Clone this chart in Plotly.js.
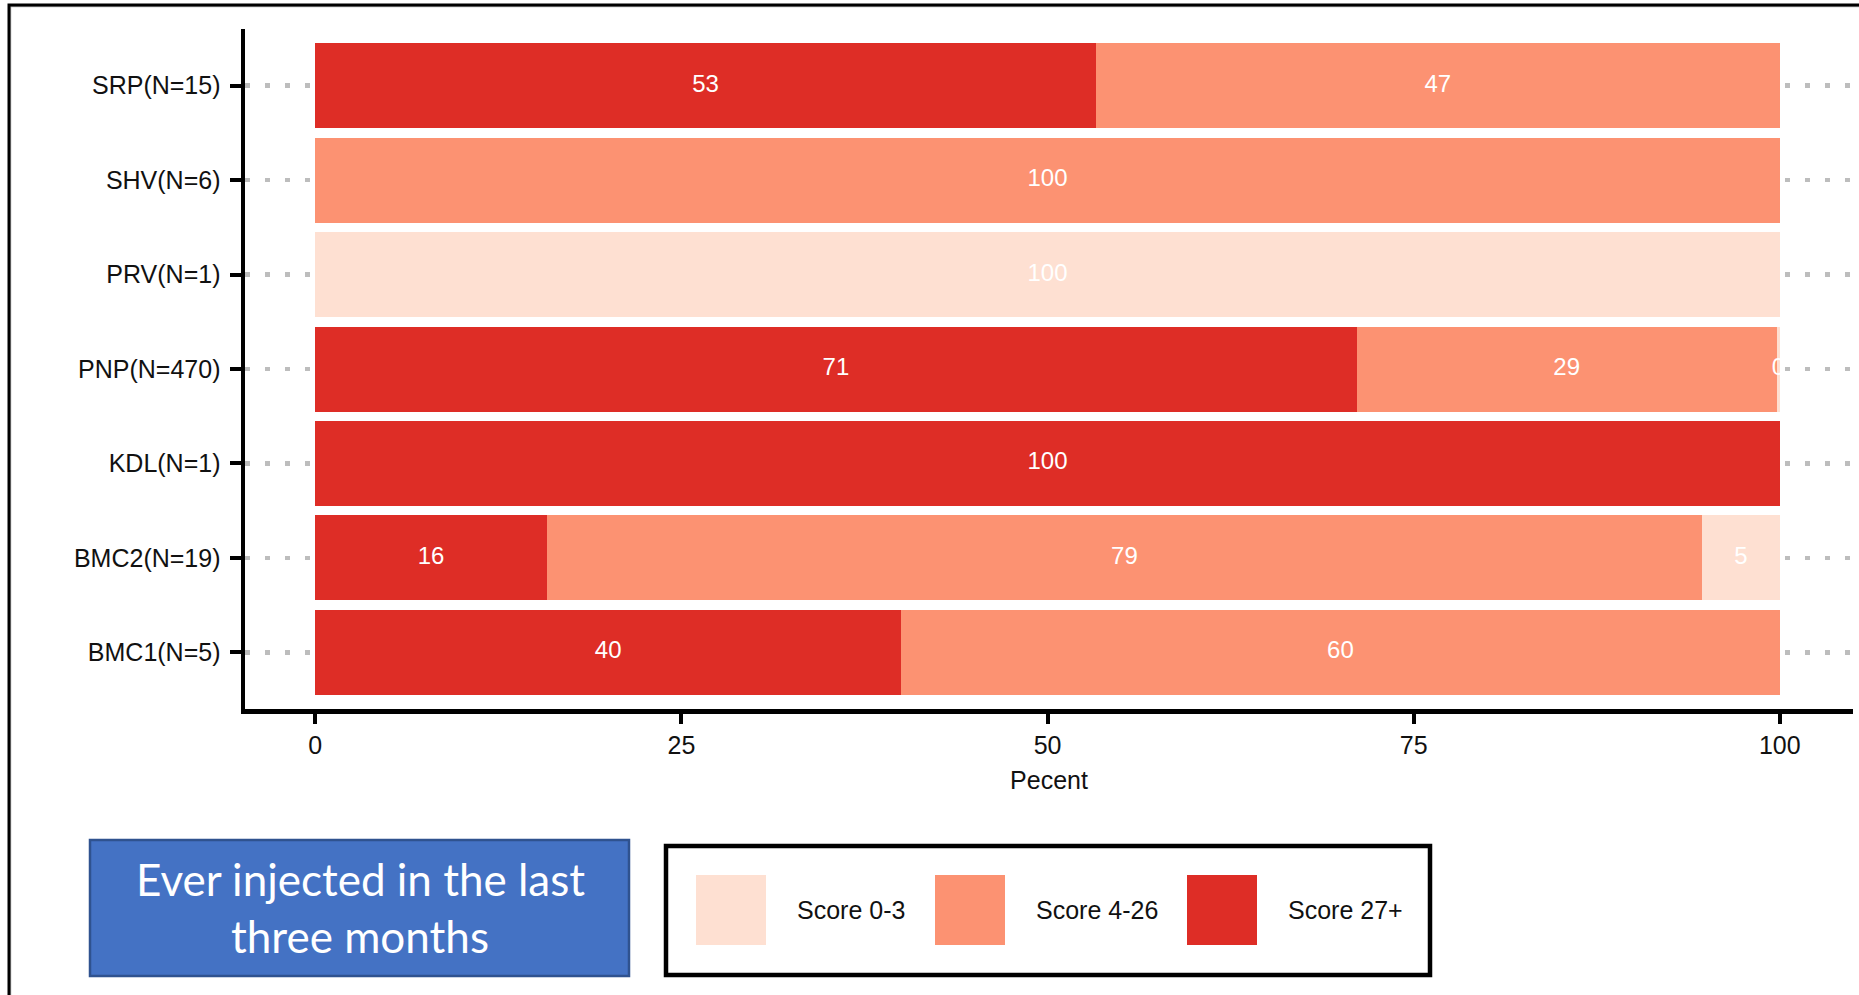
<!DOCTYPE html>
<html>
<head>
<meta charset="utf-8">
<script src="https://cdn.plot.ly/plotly-3.0.1.min.js"></script>
<style>
  html, body { margin: 0; padding: 0; background: #ffffff; }
  #chart { width: 1859px; height: 995px; }
</style>
</head>
<body>
<div id="chart"></div>
<script>
// ---- data (bottom to top) ----
const categories = ["BMC1(N=5)", "BMC2(N=19)", "KDL(N=1)", "PNP(N=470)", "PRV(N=1)", "SHV(N=6)", "SRP(N=15)"];
const score27plus = [40, 15.8, 100, 71.1, 0, 0, 53.3];
const score4to26  = [60, 78.9, 0, 28.7, 0, 100, 46.7];
const score0to3   = [0, 5.3, 0, 0.2, 100, 0, 0];
const seriesNames = ["Score 27+", "Score 4-26", "Score 0-3"];
const seriesColors = ["#DE2D26", "#FC9272", "#FEE0D2"];
const xTicks = [0, 25, 50, 75, 100];
const xTitle = "Pecent";
const boxTitleLines = ["Ever injected in the last", "three months"];
const legendOrder = ["Score 0-3", "Score 4-26", "Score 27+"];

const series = [score27plus, score4to26, score0to3];
const FONT = '"Liberation Sans", Arial, sans-serif';

// ---- geometry of the figure (pixels) ----
const W = 1859, H = 995;
const M = {l: 245, r: 6, t: 29, b: 286};
const PW = W - M.l - M.r, PH = H - M.t - M.b;
const px = x => (x - M.l) / PW;
const py = y => (H - M.b - y) / PH;

// ---- bar traces ----
const traces = series.map((vals, i) => ({
  type: 'bar',
  orientation: 'h',
  name: seriesNames[i],
  y: categories,
  x: vals,
  width: 0.9,
  marker: {color: seriesColors[i], line: {width: 0}},
  showlegend: false,
  hoverinfo: 'x+y+name'
}));

// ---- value labels at the middle of each segment ----
const lx = [], ly = [], lt = [];
categories.forEach((c, j) => {
  let cum = 0;
  series.forEach(vals => {
    const v = vals[j];
    if (v > 0) {
      lx.push(cum + v / 2);
      ly.push(c);
      lt.push(String(Math.round(v)));
    }
    cum += v;
  });
});
traces.push({
  type: 'scatter',
  mode: 'text',
  x: lx, y: ly, text: lt,
  textposition: 'middle center',
  textfont: {family: FONT, size: 24, color: '#ffffff'},
  cliponaxis: false,
  showlegend: false,
  hoverinfo: 'skip'
});

// ---- shapes & annotations (frame, legend box, title box) ----
const shapes = [];
const annotations = [];

// outer frame (open on right / bottom: runs off the picture)
shapes.push({type: 'rect', xref: 'paper', yref: 'paper',
  x0: px(10.5), x1: px(1950), y0: py(6.5), y1: py(1100),
  line: {color: '#b0b0b0', width: 1.5}, layer: 'above'});
shapes.push({type: 'rect', xref: 'paper', yref: 'paper',
  x0: px(9), x1: px(1950), y0: py(5), y1: py(1100),
  line: {color: '#000000', width: 3}, layer: 'above'});

// legend box
shapes.push({type: 'rect', xref: 'paper', yref: 'paper',
  x0: px(666), x1: px(1430), y0: py(846), y1: py(975),
  line: {color: '#000000', width: 4.5}, fillcolor: 'rgba(0,0,0,0)', layer: 'above'});
const swatchX = [696, 935, 1187];
legendOrder.forEach((name, k) => {
  const col = seriesColors[seriesNames.indexOf(name)];
  shapes.push({type: 'rect', xref: 'paper', yref: 'paper',
    x0: px(swatchX[k]), x1: px(swatchX[k] + 70), y0: py(875), y1: py(945),
    line: {width: 0}, fillcolor: col, layer: 'above'});
  annotations.push({xref: 'paper', yref: 'paper',
    x: px(swatchX[k] + 99), y: py(910), xanchor: 'left', yanchor: 'middle',
    text: name, showarrow: false,
    font: {family: FONT, size: 25, color: '#111111'}});
});

// blue title box
shapes.push({type: 'rect', xref: 'paper', yref: 'paper',
  x0: px(90), x1: px(629), y0: py(840), y1: py(976),
  line: {color: '#2F528F', width: 2.5}, fillcolor: '#4472C4', layer: 'above'});
const lineY = [879, 936];
boxTitleLines.forEach((t, k) => {
  annotations.push({xref: 'paper', yref: 'paper',
    x: px(360), y: py(lineY[k]), xanchor: 'center', yanchor: 'middle',
    text: t, showarrow: false,
    font: {family: 'Lato, "Open Sans", sans-serif', size: 44, color: '#ffffff'}});
});

const layout = {
  width: W, height: H,
  margin: M,
  paper_bgcolor: '#ffffff',
  plot_bgcolor: '#ffffff',
  barmode: 'stack',
  bargap: 0.1,
  showlegend: false,
  font: {family: FONT, color: '#111111'},
  xaxis: {
    range: [-4.8, 105],
    tickvals: xTicks,
    ticktext: xTicks.map(String),
    showgrid: false,
    zeroline: false,
    showline: true, linecolor: '#000000', linewidth: 4.5,
    ticks: 'outside', ticklen: 10, tickwidth: 4, tickcolor: '#000000',
    tickfont: {family: FONT, size: 25, color: '#111111'},
    title: {text: xTitle, font: {family: FONT, size: 25, color: '#111111'}, standoff: 15},
    fixedrange: true
  },
  yaxis: {
    type: 'category',
    categoryorder: 'array',
    categoryarray: categories,
    range: [-0.6, 6.6],
    showgrid: true, gridcolor: '#BDBDBD', gridwidth: 4.5, griddash: '5px,15px',
    zeroline: false,
    showline: true, linecolor: '#000000', linewidth: 4.5,
    ticks: 'outside', ticklen: 11, tickwidth: 4, tickcolor: '#000000',
    ticklabelstandoff: 4,
    tickfont: {family: FONT, size: 25, color: '#111111'},
    fixedrange: true
  },
  shapes: shapes,
  annotations: annotations
};

Plotly.newPlot('chart', traces, layout, {displayModeBar: false, staticPlot: true});
</script>
</body>
</html>
